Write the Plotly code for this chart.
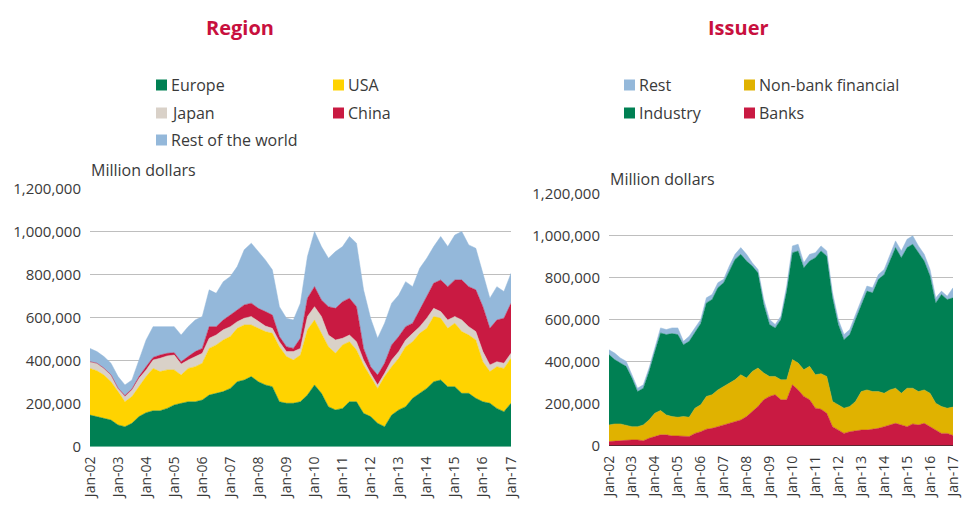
import plotly.graph_objects as go
import pandas as pd

# Quarterly observations, Jan-02 .. Jan-17 (values in thousand million dollars)
dates = pd.date_range("2002-01-01", periods=61, freq="QS")

# ---- Region ----
europe = [147, 140, 132, 124, 101, 93, 109, 140, 158, 167, 167, 178, 194, 202, 209, 209,
          217, 240, 248, 256, 271, 302, 310, 326, 302, 287, 279, 209, 202, 202, 209, 240,
          287, 248, 186, 171, 178, 209, 209, 155, 140, 109, 93, 147, 171, 186, 225, 248,
          271, 302, 310, 279, 279, 248, 248, 225, 209, 202, 178, 163, 202]
usa = [217, 213, 201, 178, 155, 116, 124, 139, 168, 197, 182, 179, 163, 131, 155, 163,
       171, 217, 225, 240, 241, 248, 256, 240, 248, 248, 248, 256, 217, 201, 217, 303,
       302, 279, 279, 263, 295, 279, 241, 225, 186, 162, 233, 225, 240, 279, 263, 279,
       279, 303, 287, 271, 295, 287, 271, 271, 186, 147, 194, 201, 209]
japan = [31, 35, 31, 31, 15, 24, 31, 39, 31, 39, 62, 65, 69, 51, 39, 47,
         46, 47, 46, 47, 46, 31, 31, 39, 31, 26, 23, 23, 23, 39, 31, 62,
         62, 78, 54, 62, 31, 31, 38, 23, 15, 16, 15, 31, 31, 31, 39, 31,
         47, 38, 31, 39, 31, 54, 39, 39, 47, 31, 23, 24, 23]
china = [0, 0, 1, 1, 1, 5, 4, 8, 15, 12, 15, 12, 11, 11, 16, 23,
         23, 54, 39, 46, 54, 55, 62, 62, 62, 67, 62, 24, 23, 15, 47, 85,
         93, 77, 132, 147, 170, 171, 163, 54, 31, 46, 47, 70, 70, 62, 47, 78,
         101, 117, 147, 155, 170, 186, 186, 194, 209, 170, 194, 209, 233]
rest_world = [62, 54, 54, 54, 54, 49, 42, 77, 124, 143, 132, 127, 121, 124, 139, 147,
              148, 171, 155, 178, 179, 201, 256, 279, 264, 240, 210, 139, 132, 132, 163, 194,
              256, 248, 225, 264, 256, 287, 295, 272, 225, 171, 186, 194, 193, 209, 170, 193,
              178, 170, 202, 186, 209, 225, 194, 193, 155, 140, 155, 124, 139]

# ---- Issuer ----
banks = [21, 24, 25, 27, 29, 29, 25, 37, 45, 53, 53, 48, 48, 45, 45, 60,
         68, 80, 84, 92, 100, 108, 116, 124, 140, 164, 188, 220, 236, 244, 220, 220,
         291, 267, 236, 220, 180, 175, 156, 92, 76, 60, 68, 73, 76, 76, 80, 84,
         92, 100, 108, 100, 92, 105, 100, 108, 92, 76, 60, 60, 50]
nonbank = [79, 81, 80, 73, 63, 63, 75, 87, 111, 116, 95, 92, 89, 95, 92, 120,
           128, 156, 160, 175, 183, 191, 199, 215, 183, 191, 183, 127, 95, 87, 95, 95,
           120, 128, 127, 159, 159, 169, 175, 120, 120, 120, 120, 139, 183, 191, 179, 175,
           159, 167, 167, 151, 183, 170, 159, 159, 159, 128, 128, 120, 135]
industry = [335, 306, 290, 279, 231, 167, 175, 231, 294, 369, 382, 395, 393, 342, 361, 358,
            387, 445, 453, 486, 494, 533, 573, 573, 557, 501, 453, 326, 247, 231, 287, 422,
            509, 533, 485, 501, 557, 584, 573, 493, 382, 326, 342, 390, 414, 470, 470, 534,
            565, 613, 669, 645, 669, 685, 661, 613, 558, 477, 533, 517, 520]
rest_issuer = [23, 31, 24, 24, 16, 16, 16, 16, 16, 24, 24, 27, 32, 16, 24, 24,
               19, 24, 24, 24, 16, 24, 24, 32, 32, 16, 16, 24, 24, 16, 16, 24,
               32, 32, 24, 32, 24, 24, 24, 24, 24, 24, 24, 23, 24, 24, 24, 23,
               24, 24, 32, 32, 40, 40, 32, 32, 31, 24, 16, 16, 48]

year_ticks = [f"{y}-01-01" for y in range(2002, 2018)]
year_labels = [f"Jan-{y % 100:02d}" for y in range(2002, 2018)]
y_ticks = [0, 200000, 400000, 600000, 800000, 1000000, 1200000]
y_labels = ["0", "200,000", "400,000", "600,000", "800,000", "1,000,000", "1,200,000"]

GREEN = "#008053"
YELLOW = "#FFD300"
BEIGE = "#D9D1C8"
RED = "#C91A42"
BLUE = "#94B8DA"
GOLD = "#E0B200"
TITLE = "#C8103E"
TXT = "#3A3A3A"
FONT = "Open Sans"

W, H = 963, 507
def px(x):
    return x / W
def py(y):
    return 1 - y / H

fig = go.Figure()

region_series = [("Europe", europe, GREEN), ("USA", usa, YELLOW), ("Japan", japan, BEIGE),
                 ("China", china, RED), ("Rest of the world", rest_world, BLUE)]
for name, vals, col in region_series:
    fig.add_trace(go.Scatter(x=dates, y=[v * 1000 for v in vals], name=name, mode="lines",
                             stackgroup="region", line=dict(width=0.5, color=col),
                             fillcolor=col, xaxis="x", yaxis="y", showlegend=False))

issuer_series = [("Banks", banks, RED), ("Non-bank financial", nonbank, GOLD),
                 ("Industry", industry, GREEN), ("Rest", rest_issuer, BLUE)]
for name, vals, col in issuer_series:
    fig.add_trace(go.Scatter(x=dates, y=[v * 1000 for v in vals], name=name, mode="lines",
                             stackgroup="issuer", line=dict(width=0.5, color=col),
                             fillcolor=col, xaxis="x2", yaxis="y2", showlegend=False))

xcommon = dict(type="date", range=[dates[0], dates[-1]], tickvals=year_ticks, ticktext=year_labels,
               tickangle=-90, showgrid=False, showline=False, zeroline=False, ticks="",
               tickfont=dict(family=FONT, size=14, color=TXT), automargin=False,
               ticklabelstandoff=6, ticklabeloverflow="allow")
ycommon = dict(range=[0, 1200000 * 1.002], tickvals=y_ticks, ticktext=y_labels, showgrid=True,
               gridcolor="#BEBEBE", gridwidth=1, zeroline=False, showline=False, ticks="",
               tickfont=dict(family=FONT, size=15, color=TXT), automargin=False,
               ticklabelstandoff=8)

fig.update_layout(
    width=W, height=H, margin=dict(l=0, r=0, t=0, b=0),
    paper_bgcolor="white", plot_bgcolor="white",
    font=dict(family=FONT, color=TXT),
    xaxis=dict(domain=[px(90), px(511)], anchor="y", **xcommon),
    yaxis=dict(domain=[py(446.7), py(188)], anchor="x", **ycommon),
    xaxis2=dict(domain=[px(609), px(953)], anchor="y2", **xcommon),
    yaxis2=dict(domain=[py(446), py(193.3)], anchor="x2", **ycommon),
)

shapes = []
annotations = []
# baseline of issuer chart
shapes.append(dict(type="line", xref="x2 domain", yref="y2", x0=0, x1=1, y0=0, y1=0,
                   line=dict(color="#3A2A2A", width=1.5)))

annotations.append(dict(text="<b>Region</b>", x=px(240), y=py(27), xref="paper", yref="paper",
                        showarrow=False, font=dict(family=FONT, size=20, color=TITLE),
                        xanchor="center", yanchor="middle"))
annotations.append(dict(text="<b>Issuer</b>", x=px(738), y=py(27), xref="paper", yref="paper",
                        showarrow=False, font=dict(family=FONT, size=20, color=TITLE),
                        xanchor="center", yanchor="middle"))
annotations.append(dict(text="Million dollars", x=px(89), y=py(170), xref="paper", yref="paper",
                        showarrow=False, font=dict(family=FONT, size=16, color=TXT),
                        xanchor="left", yanchor="middle"))
annotations.append(dict(text="Million dollars", x=px(608), y=py(179), xref="paper", yref="paper",
                        showarrow=False, font=dict(family=FONT, size=16, color=TXT),
                        xanchor="left", yanchor="middle"))

legend_items = [
    ("Europe", GREEN, 156, 85), ("USA", YELLOW, 333, 85),
    ("Japan", BEIGE, 156, 113), ("China", RED, 333, 113),
    ("Rest of the world", BLUE, 156, 140),
    ("Rest", BLUE, 624, 85), ("Non-bank financial", GOLD, 744, 85),
    ("Industry", GREEN, 624, 113), ("Banks", RED, 744, 113),
]
for label, col, x, y in legend_items:
    shapes.append(dict(type="rect", xref="paper", yref="paper", x0=px(x), x1=px(x + 11),
                       y0=py(y + 5.5), y1=py(y - 5.5), fillcolor=col, line=dict(width=0)))
    annotations.append(dict(text=label, x=px(x + 13), y=py(y), xref="paper", yref="paper",
                            showarrow=False, font=dict(family=FONT, size=16, color=TXT),
                            xanchor="left", yanchor="middle"))

fig.update_layout(shapes=shapes, annotations=annotations)
fig.write_html("out.html", config={"displayModeBar": False},
               post_script="document.body.style.margin='0px';document.body.style.overflow='hidden';")
